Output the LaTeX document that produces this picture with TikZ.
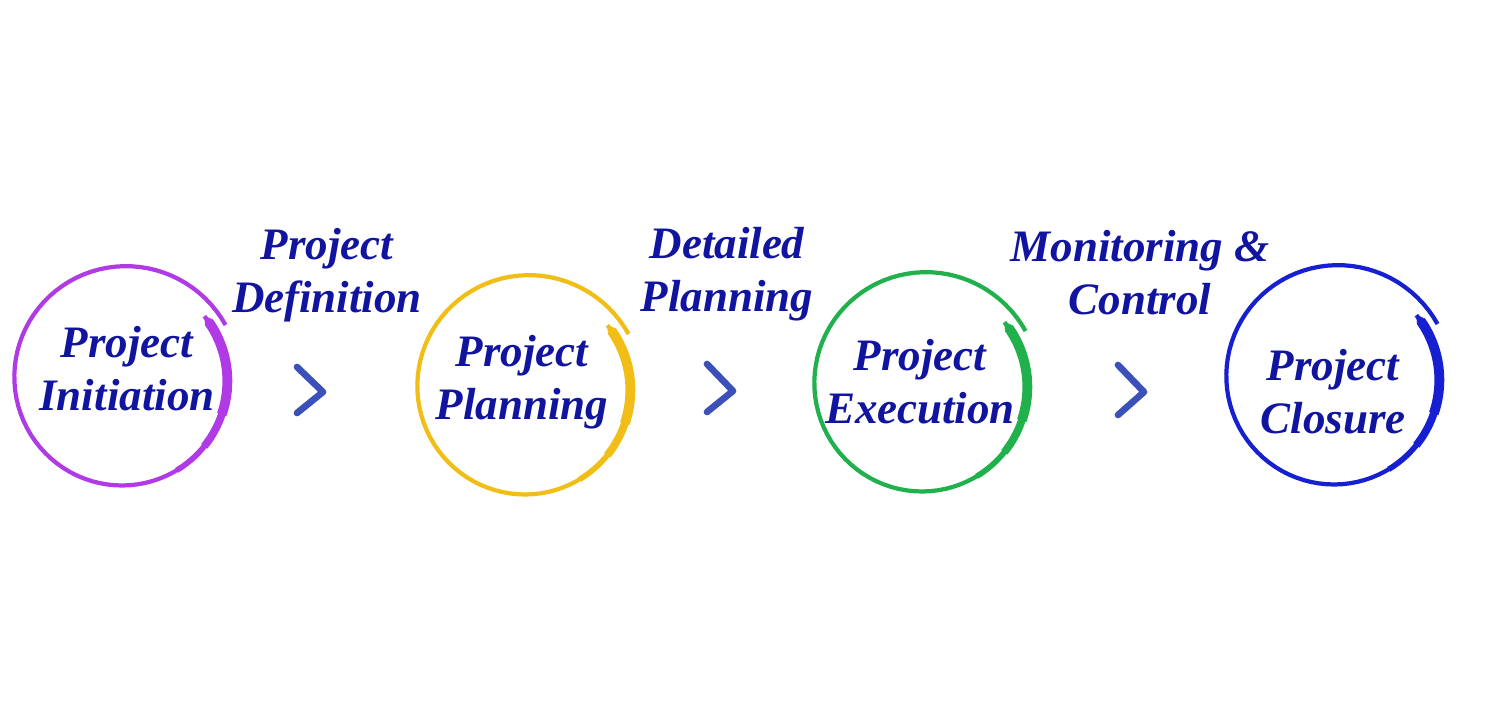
\documentclass[tikz,border=0pt]{standalone}
\usepackage{fontspec}
\setmainfont{Liberation Serif}
\usepackage{tikz}

\definecolor{navy}{RGB}{16,20,158}
\definecolor{violet}{RGB}{176,58,230}
\definecolor{amber}{RGB}{240,190,22}
\definecolor{leaf}{RGB}{32,176,76}
\definecolor{royal}{RGB}{22,32,208}
\definecolor{slate}{RGB}{60,80,185}

\begin{document}
\begin{tikzpicture}[
  phase/.style={align=center, inner sep=0pt, text=navy,
    font=\fontsize{12.8}{15.1}\selectfont\bfseries\itshape},
  ring/.style={line width=1.2pt, domain=28:398, samples=90},
  chevron/.style={slate, line width=1.9pt, line cap=round, line join=round},
  declare function={rr(\t)=1.15-0.13*(\t-28)/370;}]

\useasboundingbox (0, 0) rectangle (14.88, 7.14);

\node [phase] (init) at (1.27, 3.45) {Project\\Initiation};
\node [phase] (plan) at (5.22, 3.32) {Project\\Planning};
\node [phase] (exec) at (9.20, 3.32) {Project\\Execution};
\node [phase] (close) at (13.33, 3.22) {Project\\Closure};

\node [phase] (def) at (3.27, 4.39) {Project\\Definition};
\node [phase] (detail) at (7.27, 4.40) {Detailed\\Planning};
\node [phase] (monitor) at (11.40, 4.41) {Monitoring \&\\Control};

% brush rings
\draw [ring, violet, shift={(1.24, 3.35)}] plot (\x:{rr(\x)});
\draw [ring, violet, line width=1.6pt, domain=300:396, shift={(1.24, 3.35)}] plot (\x:{rr(\x)});
\draw [ring, violet, line width=2.2pt, domain=320:395, shift={(1.24, 3.35)}] plot (\x:{rr(\x)});
\draw [ring, violet, line width=2.8pt, domain=340:394, shift={(1.24, 3.35)}] plot (\x:{rr(\x)});

\draw [ring, amber, shift={(5.27, 3.26)}] plot (\x:{rr(\x)});
\draw [ring, amber, line width=1.6pt, domain=300:396, shift={(5.27, 3.26)}] plot (\x:{rr(\x)});
\draw [ring, amber, line width=2.2pt, domain=320:395, shift={(5.27, 3.26)}] plot (\x:{rr(\x)});
\draw [ring, amber, line width=2.8pt, domain=340:394, shift={(5.27, 3.26)}] plot (\x:{rr(\x)});

\draw [ring, leaf, shift={(9.24, 3.29)}] plot (\x:{rr(\x)});
\draw [ring, leaf, line width=1.6pt, domain=300:396, shift={(9.24, 3.29)}] plot (\x:{rr(\x)});
\draw [ring, leaf, line width=2.2pt, domain=320:395, shift={(9.24, 3.29)}] plot (\x:{rr(\x)});
\draw [ring, leaf, line width=2.8pt, domain=340:394, shift={(9.24, 3.29)}] plot (\x:{rr(\x)});

\draw [ring, royal, shift={(13.36, 3.36)}] plot (\x:{rr(\x)});
\draw [ring, royal, line width=1.6pt, domain=300:396, shift={(13.36, 3.36)}] plot (\x:{rr(\x)});
\draw [ring, royal, line width=2.2pt, domain=320:395, shift={(13.36, 3.36)}] plot (\x:{rr(\x)});
\draw [ring, royal, line width=2.8pt, domain=340:394, shift={(13.36, 3.36)}] plot (\x:{rr(\x)});

% chevrons
\draw [chevron] (2.97, 3.47) -- (3.23, 3.22) -- (2.97, 3.01);
\draw [chevron] (7.07, 3.50) -- (7.33, 3.23) -- (7.07, 3.02);
\draw [chevron] (11.18, 3.49) -- (11.44, 3.22) -- (11.18, 2.99);

\end{tikzpicture}
\end{document}
